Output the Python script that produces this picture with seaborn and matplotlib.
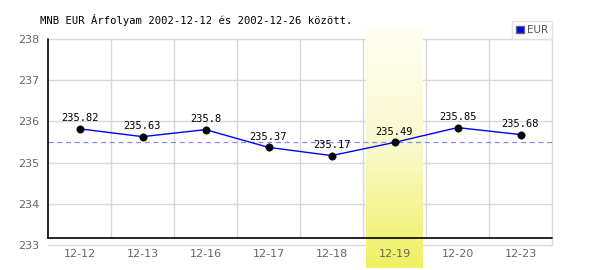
import numpy as np
import pandas as pd
import matplotlib
matplotlib.use("Agg")
import matplotlib.pyplot as plt
from matplotlib.colors import LinearSegmentedColormap
from matplotlib.patches import Patch
import seaborn as sns

dates = ["12-12", "12-13", "12-16", "12-17", "12-18", "12-19", "12-20", "12-23"]
rates = [235.82, 235.63, 235.80, 235.37, 235.17, 235.49, 235.85, 235.68]
highlight_index = 5
y_ticks = [233, 234, 235, 236, 237, 238]
title = "MNB EUR Árfolyam 2002-12-12 és 2002-12-26 között."
series_name = "EUR"

df = pd.DataFrame({"pos": np.arange(len(dates)), "rate": rates})

sns.set_style("white")
plt.rcParams["font.family"] = ["DejaVu Sans"]

fig = plt.figure(figsize=(6, 2.7), dpi=100)
ax = fig.add_axes([48 / 600, 1 - 245 / 270, 504 / 600, 206 / 270])
ax.set_axisbelow(False)

# grid
for yv in y_ticks:
    ax.axhline(yv, color="#d8d8d8", lw=1, zorder=1, clip_on=False)
for xv in np.arange(0.5, len(dates) - 0.5, 1):
    ax.axvline(xv, ymin=0.032, color="#d8d8d8", lw=1, zorder=1)
ax.axvline(len(dates) - 0.5, ymin=0.0, color="#d8d8d8", lw=1, zorder=1, clip_on=False)

# highlight gradient band (over the grid)
cmap = LinearSegmentedColormap.from_list("hl", ["#fffff4", "#f9f9cc", "#f0f060"])
grad = np.linspace(0, 1, 256).reshape(-1, 1)
ax.imshow(grad, cmap=cmap, aspect="auto", origin="upper",
          extent=[highlight_index - 0.45, highlight_index + 0.45, 232.44, 238.27],
          zorder=1.5, clip_on=False)
ax.set_xlim(-0.5, len(dates) - 0.5)
ax.set_ylim(233, 238)

# axis lines
ax.axhline(233.16, xmin=0, xmax=1, color="black", lw=1.2, zorder=3, clip_on=False)
ax.axvline(-0.5, ymin=0.032, ymax=1, color="black", lw=1.2, zorder=3, clip_on=False)

# reference dashed line at highlighted value
ax.axhline(rates[highlight_index], color="#8888ff", lw=0.9, ls=(0, (4, 3)), zorder=2)

sns.lineplot(data=df, x="pos", y="rate", color="#0000ff", lw=1, ax=ax, zorder=4)
sns.scatterplot(data=df, x="pos", y="rate", color="black", s=28, edgecolor="black",
                ax=ax, zorder=5)

for i, v in enumerate(rates):
    ax.annotate(f"{v:g}", (i, v), xytext=(0, 4),
                textcoords="offset points", ha="center", va="bottom",
                fontsize=7.5, family="DejaVu Sans Mono", color="black", zorder=6)

for s in ax.spines.values():
    s.set_visible(False)

ax.set_xticks(np.arange(len(dates)))
ax.set_xticklabels(dates)
ax.set_yticks(y_ticks)
ax.set_yticklabels([str(t) for t in y_ticks])
ax.tick_params(axis="both", length=0, labelsize=8, labelcolor="#666666")
ax.tick_params(axis="x", pad=3)
ax.tick_params(axis="y", pad=6)
ax.set_xlabel("")
ax.set_ylabel("")
ax.grid(False)

fig.text(40 / 600, 1 - 20 / 270, title, fontsize=7.6, family="DejaVu Sans Mono",
         va="center", ha="left", color="black")

leg = ax.legend(handles=[Patch(facecolor="#0000ff", edgecolor="#666666")],
                labels=[series_name], loc="lower right",
                bbox_to_anchor=(1.0, 1.0), frameon=True, fancybox=False,
                fontsize=7.5, handlelength=0.7, handleheight=0.7,
                handletextpad=0.3, borderpad=0.4, borderaxespad=0.0)
leg.get_frame().set_edgecolor("#dddddd")
leg.get_frame().set_linewidth(1)
for t in leg.get_texts():
    t.set_color("#555555")

fig.savefig("out.png", dpi=100)
